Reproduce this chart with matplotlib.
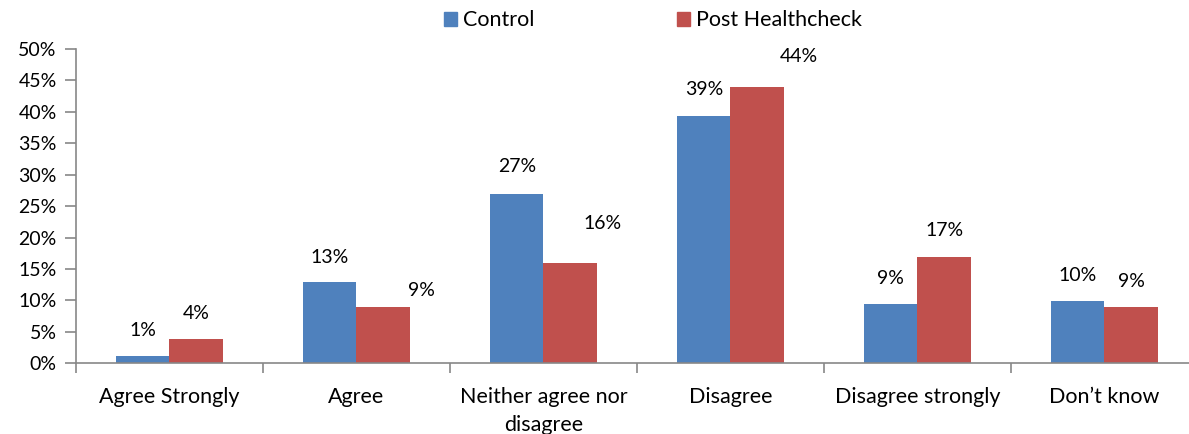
import matplotlib
matplotlib.use("Agg")
import matplotlib.pyplot as plt
from matplotlib.patches import Patch
import numpy as np

# Survey responses (% of respondents)
categories = ["Agree Strongly", "Agree", "Neither agree nor\ndisagree",
              "Disagree", "Disagree strongly", "Don\u2019t know"]
control = [1.2, 12.9, 27.0, 39.4, 9.4, 9.9]
post_healthcheck = [3.9, 9.0, 15.9, 43.9, 16.9, 9.0]
series_names = ["Control", "Post Healthcheck"]
y_ticks = [0, 5, 10, 15, 20, 25, 30, 35, 40, 45, 50]

# Label offsets in pixels (dx, dy) relative to each bar top
control_offsets = [(0, 25), (0, 25), (0, 27), (0, 26), (0, 26), (0, 26)]
post_offsets = [(0, 25), (38, 16), (32, 40), (42, 31), (0, 27), (0, 25)]

BLUE = "#4F81BD"
RED = "#C0504D"
AXIS = "#878787"
FONT = "Lato"
FS_NUM = 14
FS_TXT = 15.5

plt.rcParams["font.family"] = [FONT, "DejaVu Sans"]

fig = plt.figure(figsize=(11.89, 4.34), dpi=100)
ax = fig.add_axes([76 / 1189, 1 - 363.3 / 434, 1122 / 1189, (363.3 - 49) / 434])

x = np.arange(len(categories))
w = 0.285
b1 = ax.bar(x - w / 2, control, w, color=BLUE, label=series_names[0])
b2 = ax.bar(x + w / 2, post_healthcheck, w, color=RED, label=series_names[1])

for bars, vals, offs in ((b1, control, control_offsets),
                         (b2, post_healthcheck, post_offsets)):
    for rect, v, (dx, dy) in zip(bars, vals, offs):
        ax.annotate(f"{v:.0f}%", (rect.get_x() + rect.get_width() / 2, v),
                    xytext=(dx, dy), textcoords="offset pixels",
                    ha="center", va="center", fontsize=FS_NUM, color="black")

ax.set_xlim(-0.5, len(categories) - 0.5)
ax.set_ylim(0, 50)
ax.set_yticks(y_ticks)
ax.set_yticklabels([f"{t}%" for t in y_ticks], fontsize=FS_NUM)

# Category labels centred, ticks on category boundaries
ax.set_xticks(x)
ax.set_xticklabels(categories, fontsize=FS_TXT, linespacing=1.5)
ax.set_xticks(np.arange(-0.5, len(categories) + 0.5, 1), minor=True)
ax.tick_params(axis="x", which="major", length=0, pad=17)
ax.tick_params(axis="x", which="minor", length=7, width=1.2, color=AXIS, direction="out")
ax.tick_params(axis="y", length=8, width=1.2, color=AXIS, pad=6)

for s in ("top", "right"):
    ax.spines[s].set_visible(False)
for s in ("left", "bottom"):
    ax.spines[s].set_color(AXIS)
    ax.spines[s].set_linewidth(1.2)

handles = [Patch(color=BLUE), Patch(color=RED)]
fig.legend(handles, series_names, loc="center left", ncol=2,
           bbox_to_anchor=(444 / 1189, 1 - 20.5 / 434), frameon=False,
           fontsize=FS_TXT, handlelength=0.6, handleheight=0.6,
           handletextpad=0.3, columnspacing=6.6, borderpad=0, borderaxespad=0)

fig.savefig("out.png", dpi=100)
